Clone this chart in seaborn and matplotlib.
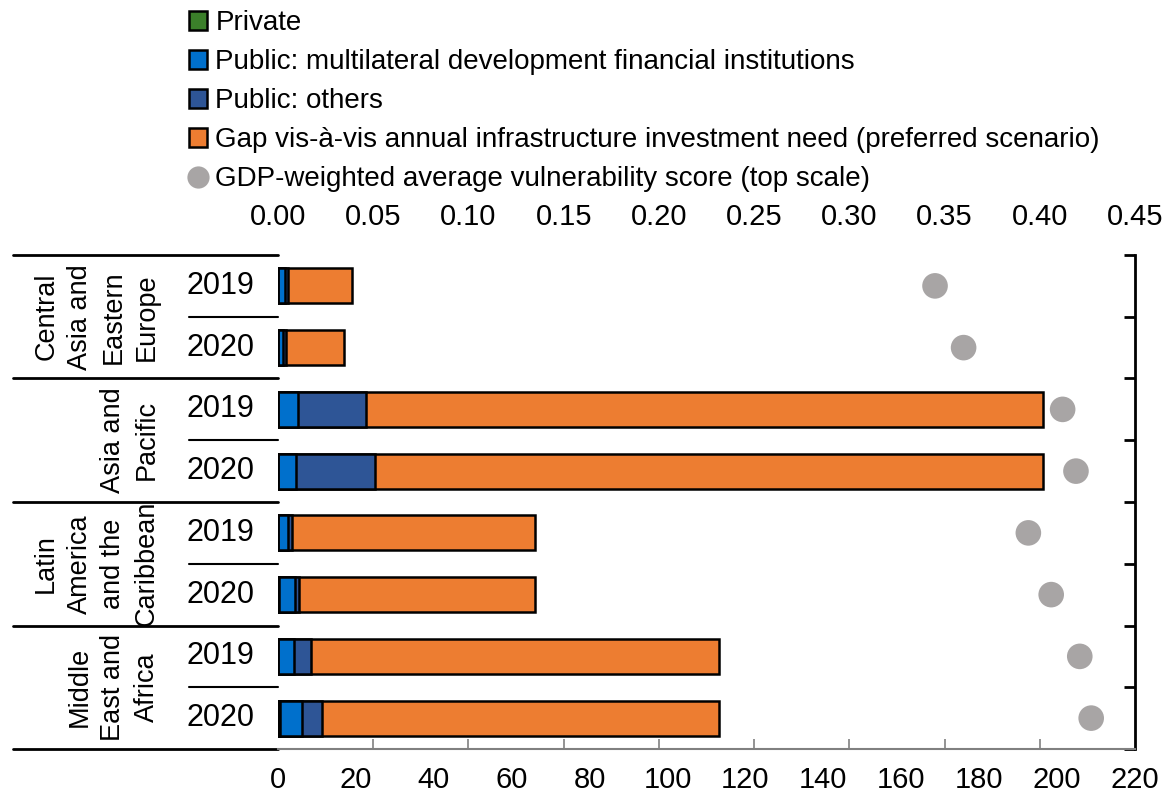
import numpy as np
import pandas as pd
import matplotlib
matplotlib.use("Agg")
import matplotlib.pyplot as plt
from matplotlib.patches import Patch
from matplotlib.lines import Line2D
import seaborn as sns

sns.set_theme(style="white")
plt.rcParams['font.family'] = ['Liberation Sans', 'DejaVu Sans']
plt.rcParams['text.color'] = 'black'
plt.rcParams['xtick.color'] = 'black'
plt.rcParams['ytick.color'] = 'black'

# ---------------- data ----------------
regions = ["Central\nAsia and\nEastern\nEurope", "Asia and\nPacific",
           "Latin\nAmerica\nand the\nCaribbean", "Middle\nEast and\nAfrica"]
years = ["2019", "2020"]
private = [0.0, 0.0, 0.0, 0.0, 0.0, 0.3, 0.0, 0.5]
public_mdfi = [1.8, 1.3, 5.1, 4.6, 2.6, 4.0, 4.1, 5.7]
public_others = [0.8, 0.8, 17.4, 20.3, 0.9, 1.0, 4.3, 5.0]
gap = [16.4, 14.8, 173.9, 171.5, 62.5, 60.7, 104.8, 102.0]
vulnerability = [0.345, 0.360, 0.412, 0.419, 0.394, 0.406, 0.421, 0.427]
bottom_ticks = [0, 20, 40, 60, 80, 100, 120, 140, 160, 180, 200, 220]
top_ticks = [0.00, 0.05, 0.10, 0.15, 0.20, 0.25, 0.30, 0.35, 0.40, 0.45]

labels = ["Private", "Public: multilateral development financial institutions",
          "Public: others",
          "Gap vis-à-vis annual infrastructure investment need (preferred scenario)",
          "GDP-weighted average vulnerability score (top scale)"]
colors = {"private": "#3B7F2A", "mdfi": "#0070CC", "others": "#2E5596",
          "gap": "#ED7D31", "dot": "#A8A5A5"}

rows = [f"{r}|{y}" for r in range(len(regions)) for y in years]
df = pd.DataFrame({"row": rows, "private": private, "mdfi": public_mdfi,
                   "others": public_others, "gap": gap, "vuln": vulnerability})
df["c_private"] = df["private"]
df["c_mdfi"] = df["c_private"] + df["mdfi"]
df["c_others"] = df["c_mdfi"] + df["others"]
df["c_gap"] = df["c_others"] + df["gap"]
df["pos"] = np.arange(len(df))

FS = 21
fig = plt.figure(figsize=(11.66, 8.02), dpi=100)
ax = fig.add_axes([278/1166, 1-749/802, (1135-278)/1166, (749-255)/802])

for col, key in [("c_gap", "gap"), ("c_others", "others"), ("c_mdfi", "mdfi"), ("c_private", "private")]:
    sns.barplot(data=df, x=col, y="row", order=rows, orient="h", color=colors[key],
                saturation=1, width=0.57, edgecolor="black", linewidth=1.8, ax=ax)

ax.set_xlim(0, 220)
ax.set_ylim(len(rows)-0.5, -0.5)
ax.set_xlabel("")
ax.set_ylabel("")

# bottom axis: labels without marks, gray marks at top-scale spacing
ax.set_xticks(bottom_ticks)
ax.set_xticklabels([str(t) for t in bottom_ticks], fontsize=FS)
ax.tick_params(axis="x", which="major", length=0, pad=12, labelcolor="black")
ax.set_xticks(np.arange(0, 10) * 220/9, minor=True)
ax.tick_params(axis="x", which="minor", direction="in", length=7, width=1.2, color="#808080", bottom=True)

# right spine with boundary ticks
ax.yaxis.tick_right()
ax.set_yticks(np.arange(-0.5, len(rows), 1.0))
ax.set_yticklabels([])
ax.tick_params(axis="y", direction="in", length=8, width=2, color="black", right=True)
for s in ["left", "top"]:
    ax.spines[s].set_visible(False)
ax.spines["right"].set_color("black")
ax.spines["right"].set_linewidth(2)
ax.spines["bottom"].set_color("#808080")
ax.spines["bottom"].set_linewidth(1.5)

# top scale with dots
ax2 = ax.twiny()
sns.scatterplot(x=df["vuln"], y=df["pos"], color=colors["dot"], s=340, edgecolor="none", ax=ax2, legend=False, zorder=5)
ax2.set_xlim(0, 0.45)
ax2.set_ylim(len(rows)-0.5, -0.5)
ax2.set_xticks(top_ticks)
ax2.set_xticklabels([f"{t:.2f}" for t in top_ticks], fontsize=FS)
ax2.tick_params(axis="x", length=0, pad=17, labelcolor="black")
ax2.set_xlabel("")
ax2.set_ylabel("")
for s in ax2.spines.values():
    s.set_visible(False)

# left category labels and separators
tr = ax.get_yaxis_transform()
x_grp = (13-278)/857
x_yr = (189-278)/857
for g in range(len(regions)):
    top = 2*g - 0.5
    ax.plot([x_grp, 0], [top, top], transform=tr, color="black", lw=2, clip_on=False)
    ax.plot([x_yr, 0], [top+1, top+1], transform=tr, color="black", lw=1.5, clip_on=False)
    ax.text((160-278)/857, 2*g+0.5, regions[g], transform=tr, rotation=90, ha="right",
            va="center", multialignment="center", fontsize=19.5, linespacing=1.38)
    for k, y in enumerate(years):
        ax.text((220-278)/857, 2*g+k, y, transform=tr, ha="center", va="center", fontsize=22)
ax.plot([x_grp, 0], [len(rows)-0.5]*2, transform=tr, color="black", lw=2, clip_on=False)

handles = [Patch(facecolor=colors["private"], edgecolor="black", linewidth=1.8),
           Patch(facecolor=colors["mdfi"], edgecolor="black", linewidth=1.8),
           Patch(facecolor=colors["others"], edgecolor="black", linewidth=1.8),
           Patch(facecolor=colors["gap"], edgecolor="black", linewidth=1.8),
           Line2D([], [], marker="o", linestyle="none", markersize=16,
                  markerfacecolor=colors["dot"], markeredgecolor="none")]
fig.legend(handles, labels, loc="upper left", bbox_to_anchor=(189/1166, 1-10/802), frameon=False,
           fontsize=20, handlelength=0.65, handleheight=0.65, handletextpad=0.3,
           labelspacing=0.47, borderaxespad=0, borderpad=0)

fig.savefig("out.png", dpi=100)
